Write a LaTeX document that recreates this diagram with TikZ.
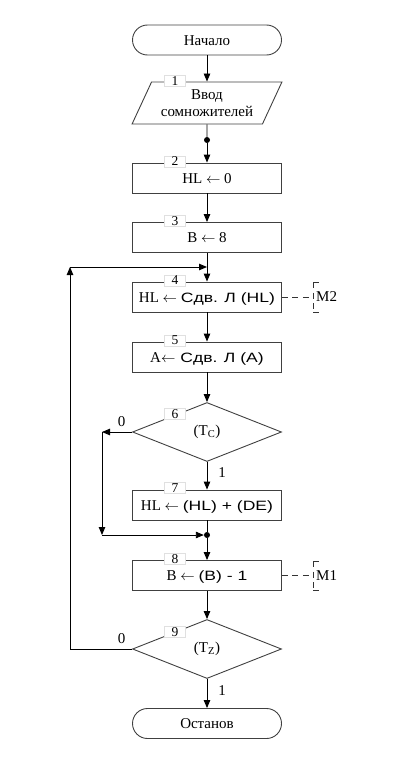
\documentclass[tikz,border=0pt]{standalone}
\usepackage{fontspec}
\setmainfont{Liberation Serif}
\newfontfamily\ssf[FakeStretch=1.3]{Liberation Sans}
\usetikzlibrary{arrows.meta,shapes.geometric,calc}
\newcommand{\sfx}[1]{{\ssf\fontsize{13.5}{16}\selectfont #1}}
\begin{document}
\begin{tikzpicture}[x=1pt,y=-1pt,
  font=\fontsize{15}{18}\selectfont,
  shp/.style={draw=black!75, line width=0.9pt, inner sep=0pt},
  blk/.style={shp, rectangle, minimum width=149pt, minimum height=30pt, text height=11pt, text depth=0.5pt},
  term/.style={blk, rounded corners=15pt},
  dec/.style={shp, diamond, aspect=2.5, minimum width=149pt, minimum height=59pt},
  inout/.style={shp, trapezium, trapezium left angle=59, trapezium right angle=121,
    trapezium stretches=true, minimum width=150pt, minimum height=42pt, align=center},
  num/.style={fill=white, draw=black!12, line width=0.6pt, minimum width=21pt,
    minimum height=11pt, inner sep=0pt, font=\fontsize{13.5}{13.5}\selectfont},
  arr/.style={-{Triangle[length=8pt,width=6.5pt]}, line width=0.9pt},
  ln/.style={line width=0.9pt},
  dotn/.style={circle, fill, inner sep=0pt, minimum size=6pt},
  dsh/.style={draw=black!80, line width=0.8pt, dash pattern=on 6pt off 4.5pt},
  lbl/.style={inner sep=0pt}
]
\useasboundingbox (0,0) rectangle (408,771);

% shapes
\node[term] (start) at (207,40) {Начало};
\node[inout] (inp) at (207,103) {Ввод\\[-1pt]сомножителей};
\node[dotn] (d1) at (207,140) {};
\node[blk] (b2) at (207,178) {HL $\leftarrow$ 0};
\node[blk] (b3) at (207,237.5) {B $\leftarrow$ 8};
\node[blk] (b4) at (207,297) {HL $\leftarrow$ \sfx{Сдв. Л (HL)}};
\node[blk] (b5) at (207,357) {A\sfx{$\leftarrow$ Сдв. Л (A)}};
\node[dec] (c6) at (207,432) {(T\textsubscript{C})};
\node[blk] (b7) at (207,505) {HL $\leftarrow$ \sfx{(HL) + (DE)}};
\node[dotn] (d2) at (207,535) {};
\node[blk] (b8) at (207,575.5) {B $\leftarrow$ \sfx{(B) - 1}};
\node[dec] (c9) at (207,649) {(T\textsubscript{Z})};
\node[term] (stop) at (207,723.5) {Останов};

% number boxes
\node[num] (n1) at (175,81) {1};
\node[num] (n2) at (175,161.5) {2};
\node[num] (n3) at (175,221) {3};
\node[num] (n4) at (175,280.5) {4};
\node[num] (n5) at (175,340.5) {5};
\node[num] (n6) at (175,414) {6};
\node[num] (n7) at (175,488) {7};
\node[num] (n8) at (175,559) {8};
\node[num] (n9) at (175,632) {9};

% helper coordinates
\coordinate (j1) at (207,267);
\coordinate (c6l) at (102,432);
\coordinate (c6b) at (102,535);
\coordinate (c9l) at (70,649);
\coordinate (c9t) at (70,267);

% main flow
\draw[arr] (start) -- (inp);
\draw[ln] (inp) -- (d1);
\draw[arr] (d1) -- (b2);
\draw[arr] (b2) -- (b3);
\draw[arr] (b3) -- (b4);
\draw[arr] (b4) -- (b5);
\draw[arr] (b5) -- (c6);
\draw[arr] (c6) -- node[lbl, pos=0.4, xshift=15pt] {1} (b7);
\draw[ln] (b7) -- (d2);
\draw[arr] (d2) -- (b8);
\draw[arr] (b8) -- (c9);
\draw[arr] (c9) -- node[lbl, pos=0.4, xshift=15pt] {1} (stop);

% branch of 6
\draw[arr] (c6.west) -- node[lbl, pos=0.35, above=5pt] {0} (c6l);
\draw[arr] (c6l) -- (c6b);
\draw[arr] (c6b) -- (d2);

% loop of 9
\draw[ln] (c9.west) -- node[lbl, pos=0.17, above=5pt] {0} (c9l);
\draw[arr] (c9l) -- (c9t);
\draw[arr] (c9t) -- (j1);

% comments
\coordinate (m2) at (313,297);
\coordinate (m1) at (313,575.5);
\draw[dsh] (b4.east) -- (m2);
\draw[dsh] (313,282) -- (313,312);
\draw[dsh] (313,282) -- (323,282);
\draw[dsh] (313,312) -- (323,312);
\node[lbl, anchor=west] (m2t) at (316,297) {M2};
\draw[dsh] (b8.east) -- (m1);
\draw[dsh] (313,561) -- (313,590);
\draw[dsh] (313,561) -- (323,561);
\draw[dsh] (313,590) -- (323,590);
\node[lbl, anchor=west] (m1t) at (316,575.5) {M1};
\end{tikzpicture}
\end{document}
